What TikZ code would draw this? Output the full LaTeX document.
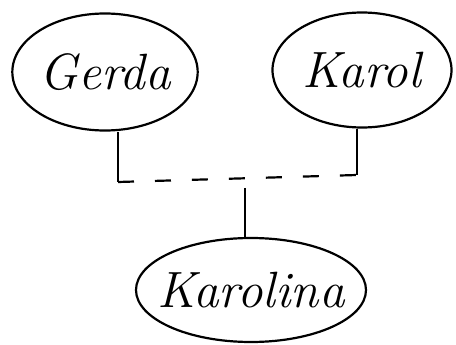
\documentclass[tikz,border=0pt]{standalone}
\usetikzlibrary{shapes.geometric}

\begin{document}
\begin{tikzpicture}[x=1pt,y=-1pt,line width=2.2pt,
    person/.style={draw,ellipse,inner sep=0pt,font=\fontsize{51}{55}\selectfont\itshape}]
      \useasboundingbox (0,0) rectangle (456,345);
      \node[person,minimum width=184pt,minimum height=117pt] (G) at (105,72) {Gerda};
      \node[person,minimum width=179pt,minimum height=115pt] (K) at (362,70) {Karol};
      \node[person,inner xsep=-18pt,minimum width=230pt,minimum height=104pt] (L) at (251,290) {Karolina};
        % marriage line and child
      \coordinate (gl) at (118,182);
      \coordinate (kr) at (357,175);
      \coordinate (m) at (245,188);
      \draw (G.south -| gl) -- (gl);
      \draw[dash pattern=on 16pt off 21pt] (gl) -- (kr);
      \draw (kr) -- (K.south -| kr);
      \draw (m) -- (L.north -| m);
    \end{tikzpicture}
\end{document}
